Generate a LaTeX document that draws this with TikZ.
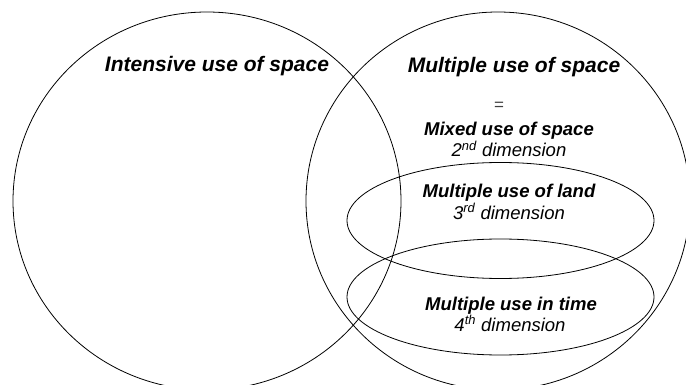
\documentclass[tikz,border=0pt]{standalone}
\usepackage{fontspec}
\setmainfont{Liberation Sans}
\begin{document}
\begin{tikzpicture}[x=1pt,y=-1pt,
  ring/.style={draw=black,line width=0.8pt},
  head/.style={anchor=base,inner sep=0pt,font=\fontsize{21}{25}\selectfont\bfseries\itshape},
  sub/.style={anchor=base,inner sep=0pt,font=\fontsize{18.5}{22}\selectfont\bfseries\itshape},
  dim/.style={anchor=base,inner sep=0pt,font=\fontsize{18.5}{22}\selectfont\itshape},
  eq/.style={anchor=base,inner sep=0pt,font=\fontsize{17}{20}\selectfont,text=black!75}]
\useasboundingbox (0,0) rectangle (686,385);
\clip (0,0) rectangle (686,385);
% big circles
\draw[ring] (207,201) ellipse [x radius=194, y radius=189];
\draw[ring] (498,201) ellipse [x radius=192, y radius=189];
% small ellipses
\draw[ring] (500.5,220.5) ellipse [x radius=153.5, y radius=58];
\draw[ring] (500.5,297) ellipse [x radius=153.5, y radius=58];
% texts
\node[head] (intensive) at (217,72) {Intensive use of space};
\node[head] (multiple) at (514,73) {Multiple use of space};
\node[eq] (equals) at (499,111) {=};
\node[sub] (mixed) at (509,136) {Mixed use of space};
\node[dim] (second) at (509,157) {2\textsuperscript{nd} dimension};
\node[sub] (land) at (509,198) {Multiple use of land};
\node[dim] (third) at (509,219) {3\textsuperscript{rd} dimension};
\node[sub] (time) at (511,310) {Multiple use in time};
\node[dim] (fourth) at (510,331) {4\textsuperscript{th} dimension};
\end{tikzpicture}
\end{document}
